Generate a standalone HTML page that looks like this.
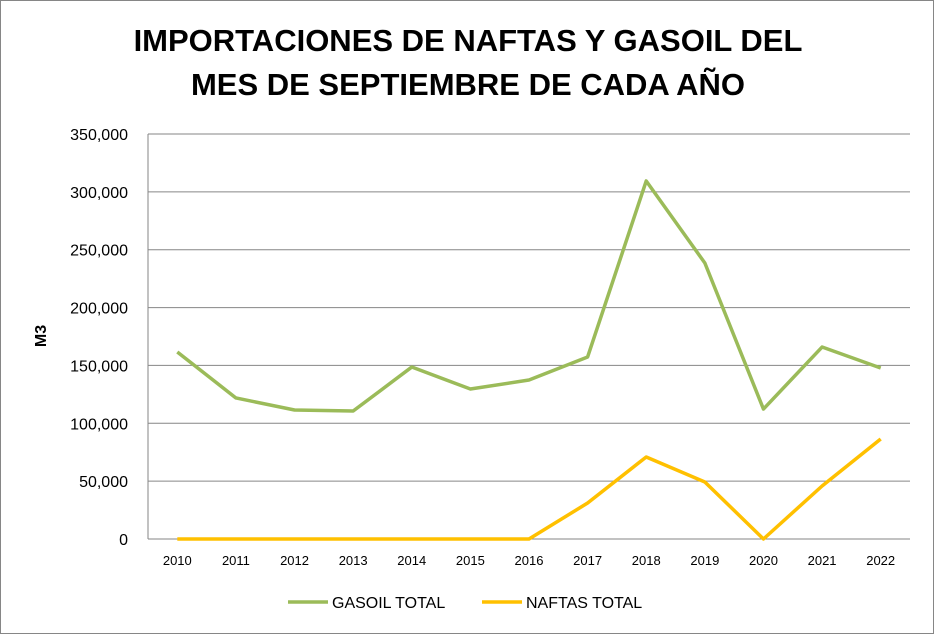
<!DOCTYPE html>
<html><head><meta charset="utf-8"><style>
html,body{margin:0;padding:0;background:#fff}
#wrap{position:relative;width:932px;height:632px;border:1px solid #868686;overflow:hidden;font-family:"Liberation Sans",sans-serif}
.title{position:absolute;left:0;width:934px;text-align:center;font-weight:bold;font-size:31px;color:#000}
</style></head><body>
<div id="wrap">
<div class="title" style="top:22px">IMPORTACIONES DE NAFTAS Y GASOIL DEL</div>
<div class="title" style="top:66px">MES DE SEPTIEMBRE DE CADA AÑO</div>
<svg id="chart" width="934" height="634" style="position:absolute;left:-1px;top:-1px"></svg>
</div>
<script>
const categories=["2010","2011","2012","2013","2014","2015","2016","2017","2018","2019","2020","2021","2022"];
const gasoil=[161600,121900,111500,110600,148600,129600,137400,157300,309400,238500,112300,165900,147800];
const naftas=[0,0,0,0,0,0,0,31100,70900,49300,0,45800,86400];
const yTicks=[0,50000,100000,150000,200000,250000,300000,350000];
const svg=document.getElementById('chart');
const NS='http://www.w3.org/2000/svg';
const L=148,R=910,T=134,B=539,yMax=350000;
const step=(R-L)/categories.length;
const x=i=>L+step*(i+0.5);
const y=v=>B-(v/yMax)*(B-T);
function mk(tag,attrs){const e=document.createElementNS(NS,tag);for(const k in attrs)e.setAttribute(k,attrs[k]);svg.appendChild(e);return e;}
yTicks.forEach(v=>{
 const g=mk('line',{x1:L,x2:R,y1:y(v),y2:y(v),stroke:'#868686','stroke-width':1});
 
 
 const t=mk('text',{x:128,y:y(v)+6,'text-anchor':'end','font-size':16,'font-family':'Liberation Sans, sans-serif'});
 t.textContent=v.toLocaleString('en-US');
 
 
});
const ax=mk('line',{x1:L,x2:L,y1:T,y2:B,stroke:'#868686'});


categories.forEach((c,i)=>{
 const t=mk('text',{x:x(i),y:565,'text-anchor':'middle','font-size':13,'font-family':'Liberation Sans, sans-serif'});
 t.textContent=c;
 
 
});
const yt=mk('text',{x:0,y:0,transform:'translate(46,336) rotate(-90)','text-anchor':'middle','font-size':16,'font-weight':'bold','font-family':'Liberation Sans, sans-serif'});
yt.textContent='M3';


function series(vals,color,name){
 const p=mk('polyline',{points:vals.map((v,i)=>x(i)+','+y(v)).join(' '),fill:'none',stroke:color,'stroke-width':3.5,'stroke-linejoin':'round'});
 
 
}
series(gasoil,'#9BBB59','gasoil-line');
series(naftas,'#FFC000','naftas-line');
function legend(lx,color,label,name){
 const l=mk('line',{x1:lx,x2:lx+40,y1:602,y2:602,stroke:color,'stroke-width':3.5});
 
 
 const t=mk('text',{x:lx+44,y:608,'font-size':16,'font-family':'Liberation Sans, sans-serif'});
 t.textContent=label;
 
 
}
legend(288,'#9BBB59','GASOIL TOTAL','legend-gasoil');
legend(482,'#FFC000','NAFTAS TOTAL','legend-naftas');
</script>
</body></html>
